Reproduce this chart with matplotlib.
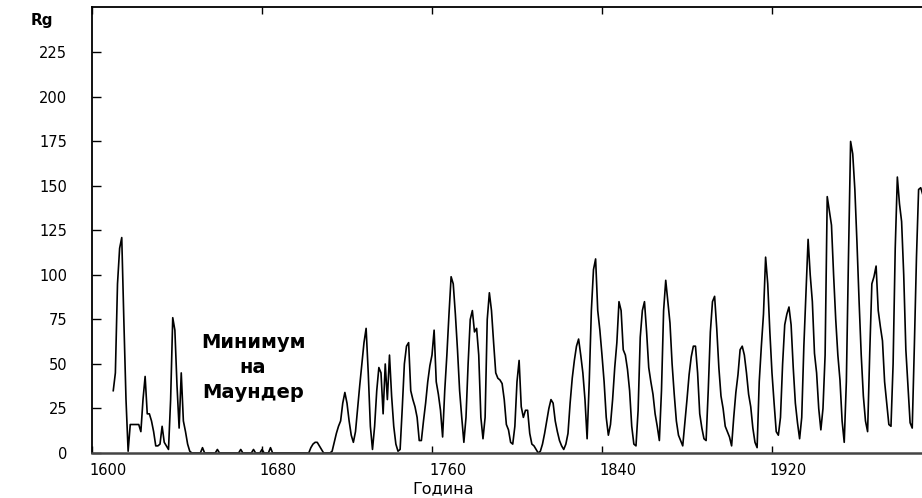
import matplotlib
matplotlib.use("Agg")
import matplotlib.pyplot as plt
import matplotlib.transforms as mtransforms
import numpy as np

# yearly group sunspot number Rg, 1610 .. 1991
first_year = 1610
rg_values = [
    35, 45, 95, 115, 121, 74, 30, 1, 16, 16,      # 1610
    16, 16, 16, 12, 30, 43, 22, 22, 18, 12,       # 1620
    4, 4, 5, 15, 6, 4, 2, 30, 76, 69,             # 1630
    38, 14, 45, 18, 12, 5, 1, 0, 0, 0,            # 1640
    0, 0, 3, 0, 0, 0, 0, 0, 0, 2,                 # 1650
    0, 0, 0, 0, 0, 0, 0, 0, 0, 0,                 # 1660
    2, 0, 0, 0, 0, 0, 2, 0, 0, 0,                 # 1670
    2, 0, 0, 0, 3, 0, 0, 0, 0, 0,                 # 1680
    0, 0, 0, 0, 0, 0, 0, 0, 0, 0,                 # 1690
    0, 0, 0, 3, 5, 6, 6, 4, 2, 0,                 # 1700
    0, 0, 0, 1, 6, 11, 15, 18, 28, 34,            # 1710
    28, 18, 10, 6, 12, 25, 38, 50, 62, 70,        # 1720
    45, 15, 2, 15, 35, 48, 45, 22, 50, 30,        # 1730
    55, 32, 15, 5, 1, 2, 25, 50, 60, 62,          # 1740
    35, 30, 26, 20, 7, 7, 18, 28, 40, 49,         # 1750
    55, 69, 40, 33, 24, 9, 35, 55, 78, 99,        # 1760
    95, 78, 58, 35, 20, 6, 20, 50, 75, 80,        # 1770
    68, 70, 55, 20, 8, 20, 75, 90, 80, 62,        # 1780
    45, 42, 41, 39, 30, 16, 13, 6, 5, 15,         # 1790
    40, 52, 26, 20, 24, 24, 11, 5, 4, 2,          # 1800
    0, 1, 5, 11, 18, 25, 30, 28, 18, 12,          # 1810
    7, 4, 2, 5, 11, 28, 42, 52, 60, 64,           # 1820
    55, 45, 30, 8, 40, 80, 103, 109, 80, 69,      # 1830
    55, 40, 20, 10, 16, 30, 48, 62, 85, 80,       # 1840
    58, 55, 47, 35, 15, 5, 4, 24, 65, 80,         # 1850
    85, 68, 48, 40, 33, 22, 15, 7, 35, 80,        # 1860
    97, 85, 73, 50, 33, 18, 10, 7, 4, 17,         # 1870
    30, 44, 54, 60, 60, 45, 22, 14, 8, 7,         # 1880
    35, 68, 85, 88, 70, 48, 32, 25, 15, 12,       # 1890
    9, 4, 20, 34, 44, 58, 60, 55, 45, 33,         # 1900
    26, 14, 6, 3, 40, 60, 78, 110, 95, 68,        # 1910
    45, 28, 12, 10, 20, 50, 72, 78, 82, 72,       # 1920
    48, 28, 17, 8, 20, 60, 90, 120, 100, 85,      # 1930
    56, 45, 25, 13, 25, 55, 144, 136, 128, 100,   # 1940
    75, 55, 41, 18, 6, 40, 110, 175, 168, 148,    # 1950
    118, 85, 55, 32, 18, 12, 56, 95, 99, 105,     # 1960
    80, 71, 63, 40, 28, 16, 15, 50, 115, 155,     # 1970
    140, 130, 100, 58, 38, 17, 14, 60, 110, 148,  # 1980
    149, 145,                                     # 1990
]
years = np.arange(first_year, first_year + len(rg_values))

x_ticks = [1600, 1680, 1760, 1840, 1920]
x_tick_labels = ["1600", "1680", "1760", "1840", "1920"]
y_ticks = [0, 25, 50, 75, 100, 125, 150, 175, 200, 225]
y_tick_labels = ["0", "25", "50", "75", "100", "125", "150", "175", "200", "225"]

fig = plt.figure(figsize=(9.22, 4.98), dpi=100)
ax = fig.add_axes([92 / 922, 45 / 498, 830 / 922, 446 / 498])

ax.plot(years, rg_values, color="black", lw=1.2, zorder=2)

ax.set_xlim(1600, 1990.6)
ax.set_ylim(0, 250.5)

ax.set_xticks(x_ticks)
ax.set_xticklabels(x_tick_labels, fontsize=10.5)
ax.set_yticks(y_ticks)
ax.set_yticklabels(y_tick_labels, fontsize=10.5)

ax.tick_params(axis="y", direction="in", length=6.5, width=1, pad=18)
ax.tick_params(axis="x", direction="in", length=5, width=1, pad=7, top=True)

# labels sit a bit right of their ticks in the original
offset = mtransforms.ScaledTranslation(16 / 100, 0, fig.dpi_scale_trans)
for lab in ax.get_xticklabels():
    lab.set_transform(lab.get_transform() + offset)

ax.spines["right"].set_visible(False)
ax.spines["left"].set_linewidth(1.3)
ax.spines["top"].set_linewidth(1.3)
ax.spines["bottom"].set_linewidth(1.8)
ax.spines["bottom"].set_color("#444444")
for sp in ax.spines.values():
    sp.set_zorder(3)

ax.text(1675.8, 48, "Минимум\nна\nМаундер", ha="center", va="center",
        fontsize=14, fontweight="bold", linespacing=1.4)

fig.text(42 / 922, 1 - 21 / 498, "Rg", ha="center", va="center",
         fontsize=11, fontweight="bold")
fig.text(443 / 922, 1 - 489 / 498, "Година", ha="center", va="center",
         fontsize=11.5)

fig.savefig("out.png", dpi=100)
